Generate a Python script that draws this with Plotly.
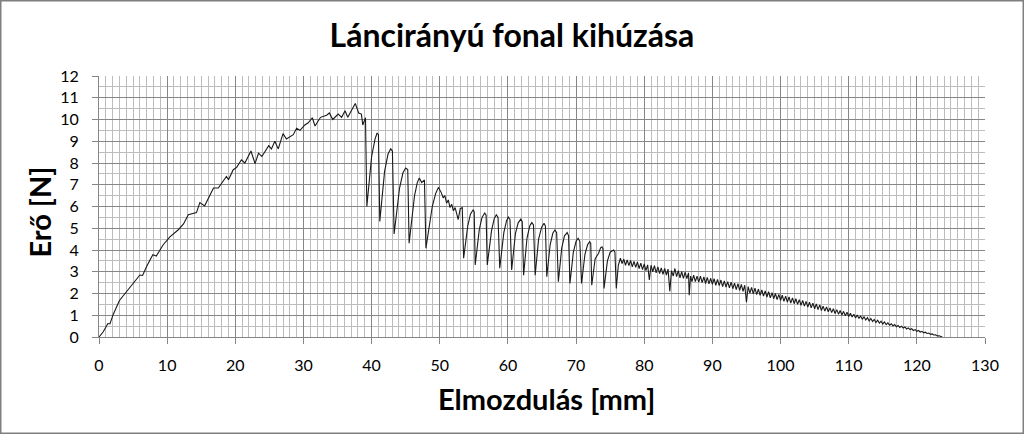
import plotly.graph_objects as go

# rising part up to the first break
rise_x = [0.0, 0.6, 1.0, 1.3, 1.6, 2.1, 3.0, 4.0, 5.0, 6.0,
          6.4, 7.0, 7.9, 8.4, 9.4, 10.4, 11.6, 12.4, 13.1, 13.8,
          14.3, 14.8, 15.5, 16.8, 17.5, 18.7, 19.0, 19.7, 20.2, 20.9,
          21.4, 22.3, 22.9, 23.4, 23.9, 24.9, 25.3, 25.8, 26.3, 27.0,
          27.5, 28.5, 29.0, 29.5, 30.2, 30.7, 31.3, 31.7, 32.5, 33.4,
          33.8, 34.3, 35.1, 35.6, 36.1, 36.5, 37.6, 38.1, 38.5, 38.7,
          39.1]
rise_y = [0.0, 0.23, 0.45, 0.62, 0.6, 1.05, 1.68, 2.08, 2.48, 2.85,
          2.83, 3.25, 3.78, 3.72, 4.23, 4.6, 4.92, 5.2, 5.62, 5.69,
          5.72, 6.18, 6.03, 6.85, 6.85, 7.38, 7.23, 7.69, 7.8, 8.15,
          8.0, 8.55, 7.97, 8.45, 8.3, 8.8, 8.65, 9.0, 8.65, 9.35,
          9.1, 9.3, 9.6, 9.5, 9.75, 9.85, 10.08, 9.7, 10.1, 10.2,
          10.3, 10.0, 10.25, 10.1, 10.4, 10.1, 10.74, 10.3, 10.25, 9.75,
          10.08]

# big saw teeth (yarn slipping out)
teeth_x = [39.3, 40.0, 40.5, 40.8, 41.0, 41.2,
           41.9, 42.4, 42.8, 43.05, 43.3,
           44.1, 44.6, 45.0, 45.3, 45.5,
           46.3, 46.7, 47.0, 47.35, 47.75, 47.97,
           48.9, 49.4, 49.8, 50.2, 50.5, 50.75, 51.0, 51.25, 51.5, 51.75,
           52.0, 52.25, 52.5, 52.7, 53.0, 53.3, 53.5,
           54.1, 54.5, 54.9, 55.05, 55.2,
           55.8, 56.2, 56.6, 56.8, 56.97,
           57.6, 58.0, 58.3, 58.55, 58.8,
           59.4, 59.8, 60.07, 60.3, 60.55,
           61.1, 61.5, 61.9, 62.1, 62.3,
           62.8, 63.2, 63.5, 63.75, 64.0,
           64.5, 64.95, 65.3, 65.5, 65.7,
           66.2, 66.6, 66.9, 67.15, 67.4,
           67.9, 68.3, 68.7, 68.9, 69.1,
           69.6, 70.0, 70.3, 70.55, 70.8,
           71.3, 71.7, 72.0, 72.15, 72.3,
           72.8, 73.3, 73.6, 73.8, 73.95, 74.1,
           74.6, 75.0, 75.5, 75.7, 75.9,
           76.2]
teeth_y = [6.0, 8.3, 9.1, 9.38, 9.3, 5.31,
           7.6, 8.4, 8.65, 8.55, 4.74,
           6.85, 7.55, 7.77, 7.7, 4.31,
           6.5, 7.1, 7.31, 7.1, 7.22, 4.08,
           6.0, 6.6, 6.88, 6.65, 6.4, 6.5, 6.15, 6.3, 5.95, 6.1,
           5.8, 5.95, 5.65, 5.4, 5.9, 5.95, 3.62,
           5.1, 5.65, 5.85, 5.75, 3.31,
           4.95, 5.5, 5.7, 5.6, 3.31,
           4.9, 5.45, 5.62, 5.5, 3.16,
           4.8, 5.35, 5.51, 5.4, 3.08,
           4.75, 5.25, 5.42, 5.3, 2.84,
           4.55, 5.1, 5.26, 5.15, 2.84,
           4.5, 5.05, 5.23, 5.1, 2.77,
           4.25, 4.78, 4.92, 4.8, 2.54,
           4.1, 4.65, 4.8, 4.65, 2.46,
           3.9, 4.4, 4.54, 4.4, 2.46,
           3.8, 4.25, 4.38, 4.3, 2.38,
           3.6, 3.85, 4.1, 4.15, 4.05, 2.23,
           3.5, 3.9, 4.0, 3.9, 2.23,
           3.3]

# small ripple tail down to zero
tail_x = [76.5, 76.75, 77.0, 77.25, 77.5, 77.75, 78.0, 78.25, 78.5, 78.75,
          79.0, 79.25, 79.5, 79.75, 80.0, 80.25, 80.5, 80.75, 81.0, 81.25,
          81.5, 81.75, 82.0, 82.25, 82.5, 82.75, 83.0, 83.25, 83.5, 83.75,
          84.0, 84.25, 84.5, 84.75, 85.0, 85.25, 85.5, 85.75, 86.0, 86.25,
          86.5, 86.6, 86.8, 87.0, 87.25, 87.5, 87.75, 88.0, 88.25, 88.5,
          88.75, 89.0, 89.25, 89.5, 89.75, 90.0, 90.25, 90.5, 90.75, 91.0,
          91.25, 91.5, 91.75, 92.0, 92.25, 92.5, 92.75, 93.0, 93.25, 93.5,
          93.75, 94.0, 94.25, 94.5, 94.75, 95.0, 95.25, 95.5, 95.75, 96.0,
          96.25, 96.5, 96.75, 97.0, 97.25, 97.5, 97.75, 98.0, 98.25, 98.5,
          98.75, 99.0, 99.25, 99.5, 99.75, 100.0, 100.25, 100.5, 100.75, 101.0,
          101.25, 101.5, 101.75, 102.0, 102.25, 102.5, 102.75, 103.0, 103.25, 103.5,
          103.75, 104.0, 104.25, 104.5, 104.75, 105.0, 105.25, 105.5, 105.75, 106.0,
          106.25, 106.5, 106.75, 107.0, 107.25, 107.5, 107.75, 108.0, 108.25, 108.5,
          108.75, 109.0, 109.25, 109.5, 109.75, 110.0, 110.25, 110.5, 110.75, 111.0,
          111.25, 111.5, 111.75, 112.0, 112.25, 112.5, 112.75, 113.0, 113.25, 113.5,
          113.75, 114.0, 114.25, 114.5, 114.75, 115.0, 115.25, 115.5, 115.75, 116.0,
          116.25, 116.5, 116.75, 117.0, 117.25, 117.5, 117.75, 118.0, 118.25, 118.5,
          118.75, 119.0, 119.25, 119.5, 119.75, 120.0, 120.25, 120.5, 120.75, 121.0,
          121.25, 121.5, 121.75, 122.0, 122.25, 122.5, 122.75, 123.0, 123.25, 123.5,
          123.75]
tail_y = [3.62, 3.38, 3.58, 3.30, 3.55, 3.28, 3.52, 3.22, 3.48, 3.20,
          3.45, 3.15, 3.40, 3.10, 3.36, 3.05, 3.32, 2.62, 3.30, 3.00,
          3.28, 2.95, 3.22, 2.92, 3.18, 2.88, 3.15, 2.85, 3.12, 2.10,
          3.05, 2.80, 3.15, 2.78, 3.05, 2.72, 3.00, 2.70, 2.98, 2.68,
          2.95, 1.92, 2.80, 2.55, 2.84, 2.55, 2.80, 2.52, 2.80, 2.50,
          2.76, 2.46, 2.74, 2.44, 2.70, 2.42, 2.68, 2.38, 2.65, 2.36,
          2.62, 2.32, 2.58, 2.30, 2.55, 2.26, 2.52, 2.22, 2.48, 2.18,
          2.45, 2.14, 2.42, 2.10, 2.38, 1.60, 2.32, 2.02, 2.28, 1.98,
          2.25, 1.95, 2.20, 1.92, 2.16, 1.88, 2.12, 1.84, 2.08, 1.80,
          2.04, 1.76, 2.00, 1.72, 1.96, 1.68, 1.92, 1.64, 1.88, 1.60,
          1.84, 1.56, 1.80, 1.53, 1.76, 1.50, 1.72, 1.46, 1.68, 1.42,
          1.64, 1.38, 1.60, 1.34, 1.56, 1.30, 1.52, 1.26, 1.48, 1.22,
          1.42, 1.19, 1.38, 1.16, 1.34, 1.12, 1.30, 1.08, 1.26, 1.05,
          1.22, 1.01, 1.18, 0.98, 1.14, 0.94, 1.09, 0.92, 1.05, 0.88,
          1.01, 0.85, 0.97, 0.81, 0.93, 0.78, 0.89, 0.74, 0.85, 0.71,
          0.81, 0.67, 0.77, 0.64, 0.73, 0.60, 0.69, 0.57, 0.65, 0.54,
          0.61, 0.51, 0.57, 0.47, 0.53, 0.44, 0.50, 0.41, 0.46, 0.37,
          0.42, 0.34, 0.38, 0.30, 0.34, 0.26, 0.30, 0.23, 0.26, 0.19,
          0.22, 0.16, 0.18, 0.12, 0.14, 0.09, 0.10, 0.05, 0.06, 0.02,
          0.0]

x_ticks = [0, 10, 20, 30, 40, 50, 60, 70, 80, 90, 100, 110, 120, 130]
y_ticks = [0, 1, 2, 3, 4, 5, 6, 7, 8, 9, 10, 11, 12]

title = "Láncirányú fonal kihúzása"
x_title = "Elmozdulás [mm]"
y_title = "Erő [N]"

FONT = "Lato"
MAJOR = "#868686"
MINOR = "#bdbdbd"


def main():
    xs = rise_x + teeth_x + tail_x
    ys = rise_y + teeth_y + tail_y

    fig = go.Figure(go.Scatter(x=xs, y=ys, mode="lines",
                               line=dict(color="#1a1a1a", width=1.1),
                               hoverinfo="x+y"))

    axis_common = dict(showgrid=True, gridcolor=MAJOR, gridwidth=1,
                       showline=True, linecolor=MAJOR, linewidth=1,
                       zeroline=False, ticks="outside", ticklen=6,
                       tickcolor=MAJOR, tickwidth=1,
                       tickfont=dict(family=FONT, size=16, color="#000000"))

    fig.update_xaxes(range=[0, 130], tickvals=x_ticks, ticklabelstandoff=8,
                     minor=dict(dtick=1, tick0=0, showgrid=True,
                                gridcolor=MINOR, gridwidth=1, ticks=""),
                     **axis_common)
    fig.update_yaxes(range=[0, 12], tickvals=y_ticks, ticklabelstandoff=10,
                     minor=dict(dtick=0.5, tick0=0, showgrid=True,
                                gridcolor=MINOR, gridwidth=1, ticks=""),
                     **axis_common)

    fig.update_layout(
        width=1024, height=434,
        margin=dict(l=99, r=39, t=76, b=97),
        paper_bgcolor="white", plot_bgcolor="white",
        showlegend=False,
        title=dict(text=title, x=0.5, xanchor="center",
                   y=1 - 36 / 434, yanchor="middle", yref="container",
                   font=dict(family=FONT, size=32, weight="bold", color="#000000")),
        annotations=[
            dict(text=x_title, xref="paper", yref="paper", x=0.505, y=-0.234,
                 xanchor="center", yanchor="middle", showarrow=False,
                 font=dict(family=FONT, size=29, weight="bold", color="#000000")),
            dict(text=y_title, xref="paper", yref="paper", x=-0.067, y=0.479,
                 xanchor="center", yanchor="middle", showarrow=False, textangle=-90,
                 font=dict(family=FONT, size=29, weight="bold", color="#000000")),
        ],
        # thin grey frame round the whole chart
        shapes=[dict(type="rect", xref="paper", yref="paper",
                     x0=-0.1109, x1=1.0432, y0=-0.3688, y1=1.2883,
                     line=dict(color="#7f7f7f", width=1.5), layer="below")],
    )

    # page default margin would push the chart 8px off
    fig.write_html("out.html", config={"displayModeBar": False},
                   post_script="document.body.style.margin='0';")


if __name__ == "__main__":
    main()
